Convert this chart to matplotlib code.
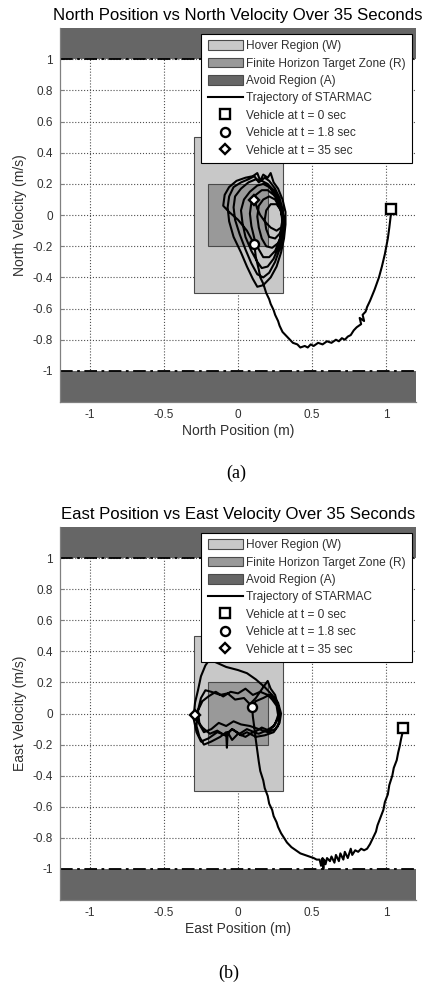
import matplotlib
matplotlib.use("Agg")
import matplotlib.pyplot as plt
from matplotlib.patches import Rectangle, Patch
from matplotlib.lines import Line2D

plt.rcParams['font.family'] = ['Liberation Sans', 'DejaVu Sans']

# ---------------- data ----------------
x_ticks = [-1, -0.5, 0, 0.5, 1]
x_tick_labels = ['-1', '-0.5', '0', '0.5', '1']
y_ticks = [-1, -0.8, -0.6, -0.4, -0.2, 0, 0.2, 0.4, 0.6, 0.8, 1]
y_tick_labels = ['-1', '-0.8', '-0.6', '-0.4', '-0.2', '0', '0.2', '0.4', '0.6', '0.8', '1']

hover_region = (-0.3, 0.3, -0.5, 0.5)      # W : x0, x1, y0, y1
target_zone = (-0.2, 0.2, -0.2, 0.2)       # R
avoid_limit = 1.0                          # A : |velocity| > 1

legend_labels = ['Hover Region (W)', 'Finite Horizon Target Zone (R)', 'Avoid Region (A)',
                 'Trajectory of STARMAC', 'Vehicle at t = 0 sec',
                 'Vehicle at t = 1.8 sec', 'Vehicle at t = 35 sec']

# North channel trajectory (position m, velocity m/s)
north_pos = [1.03, 1.03, 1.02, 1.01, 0.99, 0.97, 0.95, 0.92, 0.89, 0.87, 0.86, 0.84, 0.85,
             0.82, 0.83, 0.80, 0.78, 0.76, 0.74, 0.72, 0.70, 0.68, 0.66, 0.63, 0.60, 0.57,
             0.54, 0.51, 0.49, 0.47, 0.45, 0.42, 0.40, 0.37, 0.35, 0.32, 0.30, 0.28, 0.27,
             0.25, 0.24, 0.22, 0.21, 0.19, 0.18, 0.17, 0.15, 0.14, 0.13, 0.12, 0.115, 0.108,
             # settling loops
             0.06, 0.00, -0.06, -0.10, -0.09, -0.06, -0.01, 0.05, 0.10, 0.13, 0.15, 0.17,
             0.20, 0.22, 0.24, 0.27, 0.30, 0.32, 0.32, 0.31, 0.29, 0.26, 0.22, 0.17, 0.13,
             0.10,
             0.06, 0.02, -0.03, -0.06, -0.07, -0.06, -0.03, 0.02, 0.07, 0.11, 0.14, 0.18,
             0.21, 0.25, 0.28, 0.30, 0.31, 0.30, 0.28, 0.25, 0.21, 0.17, 0.13,
             0.09, 0.05, 0.01, -0.02, -0.03, -0.02, 0.02, 0.07, 0.12, 0.16, 0.20, 0.24,
             0.27, 0.29, 0.30, 0.29, 0.27, 0.24, 0.20, 0.16, 0.13,
             0.09, 0.05, 0.03, 0.02, 0.04, 0.08, 0.13, 0.17, 0.21, 0.25, 0.28, 0.30, 0.30,
             0.28, 0.25, 0.21, 0.17, 0.14,
             0.11, 0.09, 0.08, 0.09, 0.12, 0.16, 0.20, 0.24, 0.28, 0.30, 0.31, 0.30, 0.27,
             0.23, 0.19, 0.16,
             0.14, 0.13, 0.14, 0.17, 0.21, 0.25, 0.28, 0.30, 0.30, 0.28, 0.25, 0.21, 0.19,
             0.18, 0.19, 0.22, 0.26, 0.29, 0.30, 0.29, 0.26, 0.22, 0.18, 0.15, 0.13, 0.12,
             0.108]
north_vel = [0.04, 0.00, -0.08, -0.15, -0.25, -0.33, -0.40, -0.48, -0.55, -0.59, -0.62, -0.64,
             -0.68, -0.66, -0.70, -0.72, -0.74, -0.77, -0.78, -0.80, -0.79, -0.81, -0.80,
             -0.82, -0.81, -0.83, -0.82, -0.84, -0.83, -0.85, -0.84, -0.85, -0.83, -0.82,
             -0.80, -0.77, -0.75, -0.71, -0.68, -0.64, -0.61, -0.57, -0.54, -0.50, -0.47,
             -0.44, -0.40, -0.35, -0.31, -0.27, -0.23, -0.185,
             -0.10, -0.03, 0.02, 0.06, 0.13, 0.18, 0.22, 0.24, 0.25, 0.27, 0.22, 0.26,
             0.24, 0.27, 0.21, 0.17, 0.10, 0.02, -0.06, -0.15, -0.24, -0.33, -0.40, -0.45,
             -0.46, -0.41,
             -0.33, -0.24, -0.14, -0.04, 0.05, 0.12, 0.18, 0.21, 0.23, 0.25, 0.21, 0.24,
             0.22, 0.17, 0.11, 0.04, -0.04, -0.13, -0.22, -0.30, -0.37, -0.40, -0.38,
             -0.31, -0.22, -0.12, -0.03, 0.05, 0.12, 0.17, 0.21, 0.23, 0.22, 0.20, 0.16,
             0.10, 0.03, -0.05, -0.13, -0.21, -0.28, -0.33, -0.34, -0.30,
             -0.23, -0.14, -0.05, 0.03, 0.10, 0.15, 0.19, 0.20, 0.18, 0.13, 0.07, 0.00,
             -0.08, -0.16, -0.23, -0.27, -0.27, -0.22,
             -0.15, -0.07, 0.01, 0.08, 0.13, 0.16, 0.16, 0.13, 0.08, 0.02, -0.05, -0.12,
             -0.18, -0.21, -0.20, -0.15,
             -0.08, -0.01, 0.06, 0.10, 0.12, 0.10, 0.05, -0.01, -0.07, -0.12, -0.15, -0.14,
             -0.09, -0.03, 0.03, 0.07, 0.07, 0.03, -0.03, -0.08, -0.10, -0.08, -0.04, 0.00,
             0.04, 0.07, 0.095]

# East channel trajectory (position m, velocity m/s)
east_pos = [1.115, 1.11, 1.10, 1.09, 1.08, 1.07, 1.05, 1.04, 1.02, 1.01, 0.99, 0.98, 0.96,
            0.94, 0.93, 0.91, 0.89, 0.87, 0.85, 0.83, 0.81, 0.79, 0.77, 0.76, 0.74, 0.72,
            0.71, 0.69, 0.68, 0.66, 0.65, 0.63, 0.62, 0.60, 0.59, 0.58, 0.575, 0.57, 0.56,
            0.55, 0.53, 0.51, 0.48, 0.45, 0.42, 0.39, 0.36, 0.33, 0.31, 0.29, 0.27, 0.26,
            0.24, 0.23, 0.21, 0.20, 0.18, 0.17, 0.15, 0.14, 0.13, 0.12, 0.11, 0.10, 0.095,
            # settling loops
            0.12, 0.17, 0.21, 0.24, 0.27, 0.28, 0.27, 0.24, 0.18, 0.12, 0.06, 0.02, -0.04,
            -0.08, -0.14, -0.20, -0.25, -0.28, -0.30, -0.29, -0.27, -0.25, -0.22, -0.19,
            -0.15, -0.08, 0.00, 0.06, 0.12, 0.18, 0.23, 0.27, 0.29, 0.28, 0.25, 0.20, 0.14,
            0.08, 0.02, -0.03, -0.08, -0.13, -0.18, -0.23, -0.26, -0.27, -0.25, -0.22, -0.18,
            -0.12, -0.07, -0.02, 0.04, 0.08, 0.12, 0.17, 0.20, 0.22, 0.25, 0.27, 0.27, 0.24,
            0.19, 0.14, 0.10, 0.05, 0.00, -0.04, -0.07, -0.075, -0.08, -0.12, -0.18, -0.23,
            -0.26, -0.28, -0.27, -0.24, -0.20, -0.15, -0.10, -0.05, 0.00, 0.05, 0.10, 0.15,
            0.20, 0.23, 0.26, 0.27, 0.25, 0.21, 0.16, 0.11, 0.06, 0.01, -0.04, -0.09, -0.14,
            -0.19, -0.24, -0.27, -0.29]
east_vel = [-0.09, -0.12, -0.16, -0.21, -0.25, -0.30, -0.35, -0.40, -0.46, -0.52, -0.57,
            -0.62, -0.67, -0.72, -0.76, -0.80, -0.84, -0.87, -0.88, -0.87, -0.89, -0.88,
            -0.91, -0.87, -0.93, -0.89, -0.94, -0.90, -0.95, -0.91, -0.96, -0.92, -0.95,
            -0.93, -0.97, -0.94, -1.00, -0.93, -0.98, -0.94, -0.94, -0.93, -0.92, -0.91,
            -0.90, -0.88, -0.86, -0.83, -0.80, -0.77, -0.73, -0.70, -0.66, -0.62, -0.58,
            -0.53, -0.48, -0.43, -0.37, -0.31, -0.24, -0.17, -0.09, -0.02, 0.045,
            0.08, 0.10, 0.12, 0.10, 0.05, -0.02, -0.08, -0.12, -0.14, -0.15, -0.12, -0.14,
            -0.10, -0.14, -0.12, -0.16, -0.18, -0.12, -0.03, 0.07, 0.15, 0.24, 0.31, 0.35,
            0.33, 0.30, 0.28, 0.26, 0.22, 0.17, 0.12, 0.07, 0.00, -0.06, -0.10, -0.12,
            -0.10, -0.08, -0.07, -0.05, -0.08, -0.06, -0.10, -0.12, -0.07, 0.02, 0.10, 0.15,
            0.14, 0.12, 0.13, 0.09, 0.10, 0.06, 0.10, 0.17, 0.21, 0.16, 0.12, 0.05, -0.03,
            -0.08, -0.11, -0.13, -0.12, -0.15, -0.13, -0.17, -0.12, -0.22, -0.12, -0.15,
            -0.18, -0.20, -0.15, -0.08, 0.02, 0.08, 0.11, 0.14, 0.11, 0.14, 0.13, 0.16,
            0.12, 0.14, 0.12, 0.09, 0.05, -0.01, -0.07, -0.11, -0.09, -0.12, -0.10, -0.13,
            -0.10, -0.14, -0.11, -0.13, -0.09, -0.05, -0.01]

north_t0 = (1.03, 0.04)
north_t18 = (0.108, -0.185)
north_t35 = (0.108, 0.095)
east_t0 = (1.115, -0.09)
east_t18 = (0.095, 0.045)
east_t35 = (-0.29, -0.01)

# ---------------- style ----------------
C_HOVER = '#c8c8c8'
C_TARGET = '#999999'
C_AVOID = '#666666'
C_EDGE = '#4a4a4a'
C_TEXT = '#303030'

fig = plt.figure(figsize=(4.32, 9.89), dpi=100)
ax_n = fig.add_axes([0.139, 0.5935, 0.824, 0.378])
ax_e = fig.add_axes([0.139, 0.090, 0.824, 0.377])


def draw_panel(ax, pos, vel, t0, t18, t35, title, xlabel, ylabel):
    xlo, xhi, ylo, yhi = -1.2, 1.2, -1.2, 1.2
    # avoid region bands
    ax.add_patch(Rectangle((xlo, avoid_limit), xhi - xlo, yhi - avoid_limit,
                           facecolor=C_AVOID, edgecolor='none', zorder=1))
    ax.add_patch(Rectangle((xlo, ylo), xhi - xlo, -avoid_limit - ylo,
                           facecolor=C_AVOID, edgecolor='none', zorder=1))
    for lim in (avoid_limit, -avoid_limit):
        ax.axhline(lim, color='black', lw=1.3, dashes=(7, 2.5, 1.5, 2.5), zorder=2)
    # hover region and target zone
    hx0, hx1, hy0, hy1 = hover_region
    ax.add_patch(Rectangle((hx0, hy0), hx1 - hx0, hy1 - hy0, facecolor=C_HOVER,
                           edgecolor=C_EDGE, lw=0.8, zorder=1))
    tx0, tx1, ty0, ty1 = target_zone
    ax.add_patch(Rectangle((tx0, ty0), tx1 - tx0, ty1 - ty0, facecolor=C_TARGET,
                           edgecolor=C_EDGE, lw=0.8, zorder=1))
    # trajectory
    ax.plot(pos, vel, color='black', lw=1.5, zorder=4)
    mk = dict(color='black', mfc='white', mec='black', mew=1.7, ms=6.5, zorder=5, ls='none')
    ax.plot([t0[0]], [t0[1]], marker='s', **mk)
    ax.plot([t18[0]], [t18[1]], marker='o', **mk)
    ax.plot([t35[0]], [t35[1]], marker='D', **{**mk, 'ms': 5.5})

    ax.set_xlim(xlo, xhi)
    ax.set_ylim(ylo, yhi)
    ax.set_xticks(x_ticks)
    ax.set_xticklabels(x_tick_labels)
    ax.set_yticks(y_ticks)
    ax.set_yticklabels(y_tick_labels)
    ax.grid(True, ls=':', color='#505050', lw=0.8, zorder=0)
    ax.set_axisbelow(True)
    for s in ('top', 'right'):
        ax.spines[s].set_visible(False)
    for s in ('left', 'bottom'):
        ax.spines[s].set_color('#808080')
        ax.spines[s].set_linewidth(0.9)
    ax.tick_params(direction='in', length=3, color='#808080', labelsize=8.5,
                   labelcolor=C_TEXT, pad=5)
    ax.set_title(title, fontsize=12.1, color='black', pad=6)
    ax.set_xlabel(xlabel, fontsize=10, color=C_TEXT, labelpad=2)
    ax.set_ylabel(ylabel, fontsize=10, color=C_TEXT, labelpad=4)

    handles = [Patch(facecolor=C_HOVER, edgecolor=C_EDGE, lw=0.8),
               Patch(facecolor=C_TARGET, edgecolor=C_EDGE, lw=0.8),
               Patch(facecolor=C_AVOID, edgecolor=C_EDGE, lw=0.8),
               Line2D([], [], color='black', lw=1.5),
               Line2D([], [], marker='s', **mk),
               Line2D([], [], marker='o', **mk),
               Line2D([], [], marker='D', **{**mk, 'ms': 5.5})]
    leg = ax.legend(handles, legend_labels, loc='upper right',
                    bbox_to_anchor=(0.99, 0.985), borderaxespad=0, fontsize=8.6,
                    frameon=True, fancybox=False, edgecolor='black', framealpha=1,
                    handlelength=2.9, handleheight=0.85, handletextpad=0.3,
                    labelspacing=0.45, borderpad=0.55)
    leg.get_frame().set_linewidth(0.8)
    for t in leg.get_texts():
        t.set_color(C_TEXT)
    leg.set_zorder(10)


draw_panel(ax_n, north_pos, north_vel, north_t0, north_t18, north_t35,
           'North Position vs North Velocity Over 35 Seconds',
           'North Position (m)', 'North Velocity (m/s)')
draw_panel(ax_e, east_pos, east_vel, east_t0, east_t18, east_t35,
           'East Position vs East Velocity Over 35 Seconds',
           'East Position (m)', 'East Velocity (m/s)')

fig.text(0.548, 1 - 473 / 989, '(a)', ha='center', va='center',
         family=['Liberation Serif', 'DejaVu Serif'], fontsize=13)
fig.text(0.530, 1 - 973 / 989, '(b)', ha='center', va='center',
         family=['Liberation Serif', 'DejaVu Serif'], fontsize=13)

fig.savefig('out.png', dpi=100)
